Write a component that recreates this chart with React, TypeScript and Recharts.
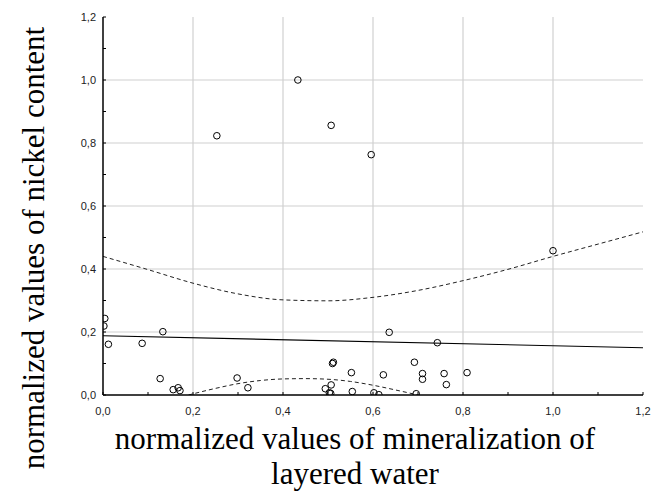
import React from 'react';
import {
  ComposedChart,
  Scatter,
  Line,
  XAxis,
  YAxis,
  CartesianGrid,
} from 'recharts';

// Observed points (normalized mineralization, normalized nickel)
const pointX = [
  0.004, 0.002, 0.012, 0.087, 0.133, 0.127, 0.156, 0.167, 0.171, 0.298,
  0.322, 0.494, 0.503, 0.506, 0.507, 0.510, 0.512, 0.552, 0.554, 0.602,
  0.613, 0.623, 0.636, 0.692, 0.696, 0.710, 0.710, 0.743, 0.758, 0.763,
  0.809, 1.0, 0.433, 0.253, 0.507, 0.596,
];
const pointY = [
  0.243, 0.219, 0.161, 0.164, 0.201, 0.052, 0.017, 0.023, 0.014, 0.054,
  0.023, 0.020, 0.007, 0.005, 0.032, 0.100, 0.104, 0.071, 0.011, 0.007,
  0.001, 0.064, 0.199, 0.104, 0.004, 0.068, 0.050, 0.166, 0.068, 0.033,
  0.071, 0.458, 1.0, 0.823, 0.856, 0.763,
];

// Regression line
const fitX = [0, 1.2];
const fitY = [0.188, 0.15];

// Upper confidence band
const upperX = [0, 0.1, 0.2, 0.3, 0.4, 0.5, 0.6, 0.7, 0.8, 0.9, 1.0, 1.1, 1.2];
const upperY = [0.44, 0.398, 0.355, 0.321, 0.302, 0.299, 0.31, 0.332, 0.363, 0.399, 0.44, 0.479, 0.518];

// Lower confidence band (visible part)
const lowerX = [0.19, 0.25, 0.3, 0.35, 0.4, 0.45, 0.5, 0.55, 0.6, 0.65, 0.7];
const lowerY = [0, 0.021, 0.036, 0.046, 0.051, 0.052, 0.05, 0.043, 0.031, 0.016, 0];

const axisTicks = [0, 0.1, 0.2, 0.3, 0.4, 0.5, 0.6, 0.7, 0.8, 0.9, 1.0, 1.1, 1.2];
const gridValues = [0.2, 0.4, 0.6, 0.8, 1.0];

const xTitle1 = 'normalized values of mineralization of';
const xTitle2 = 'layered water';
const yTitle = 'normalized values of nickel content';

const zip = (xs: number[], ys: number[]) => xs.map((x, i) => ({ x, y: ys[i] }));
const points = zip(pointX, pointY);
const fit = zip(fitX, fitY);
const upper = zip(upperX, upperY);
const lower = zip(lowerX, lowerY);

const fmt = (v: number) => {
  const k = Math.round(v * 10);
  if (k % 2 !== 0) return '';
  return (k / 10).toFixed(1).replace('.', ',');
};

const tickStyle = { fontFamily: '"Liberation Sans", Arial, sans-serif', fontSize: 11, fill: '#222' };

const Circle = (props: any) => {
  const { cx, cy } = props;
  if (cx == null || cy == null) return null;
  return <circle cx={cx} cy={cy} r={3.3} fill="none" stroke="#000" strokeWidth={1} />;
};

export default function App() {
  return (
    <div style={{ position: 'absolute', left: 0, top: 0, width: 667, height: 492, background: '#fff' }}>
      <ComposedChart
        width={667}
        height={492}
        margin={{ top: 17, right: 24, left: 0, bottom: 0 }}
      >
        <CartesianGrid
          stroke="#d0d0d0"
          strokeWidth={1.2}
          horizontalValues={gridValues}
          verticalValues={gridValues}
        />
        <XAxis
          dataKey="x"
          type="number"
          domain={[0, 1.2]}
          ticks={axisTicks}
          tickFormatter={fmt}
          allowDataOverflow
          height={97}
          interval={0}
          tick={tickStyle}
          axisLine={{ stroke: '#000', strokeWidth: 1.5 }}
          tickLine={{ stroke: '#000' }}
          tickSize={-3}
          tickMargin={15}
        />
        <XAxis
          xAxisId="top"
          orientation="top"
          type="number"
          domain={[0, 1.2]}
          ticks={axisTicks}
          tickFormatter={() => ''}
          allowDataOverflow
          height={0}
          interval={0}
          axisLine={{ stroke: '#000', strokeWidth: 1.5 }}
          tickLine={{ stroke: '#000' }}
          tickSize={-3}
        />
        <YAxis
          dataKey="y"
          type="number"
          domain={[0, 1.2]}
          ticks={axisTicks}
          tickFormatter={fmt}
          allowDataOverflow
          width={103}
          interval={0}
          tick={tickStyle}
          axisLine={{ stroke: '#000', strokeWidth: 1.5 }}
          tickLine={{ stroke: '#000' }}
          tickSize={-3}
          tickMargin={10}
        />
        <YAxis
          yAxisId="right"
          orientation="right"
          type="number"
          domain={[0, 1.2]}
          ticks={axisTicks}
          tickFormatter={() => ''}
          allowDataOverflow
          width={0}
          interval={0}
          axisLine={{ stroke: '#000', strokeWidth: 1.5 }}
          tickLine={{ stroke: '#000' }}
          tickSize={-3}
        />
        <Line
          data={upper}
          dataKey="y"
          type="monotone"
          stroke="#222"
          strokeWidth={1}
          strokeDasharray="4 3"
          dot={false}
          activeDot={false}
          isAnimationActive={false}
        />
        <Line
          data={lower}
          dataKey="y"
          type="monotone"
          stroke="#222"
          strokeWidth={1}
          strokeDasharray="4 3"
          dot={false}
          activeDot={false}
          isAnimationActive={false}
        />
        <Line
          data={fit}
          dataKey="y"
          type="linear"
          stroke="#000"
          strokeWidth={1.1}
          dot={false}
          activeDot={false}
          isAnimationActive={false}
        />
        <Scatter data={points} dataKey="y" shape={<Circle />} isAnimationActive={false} />
      </ComposedChart>
      <div
        style={{
          position: 'absolute',
          left: 33,
          top: 248,
          transform: 'translate(-50%, -50%) rotate(-90deg)',
          whiteSpace: 'nowrap',
          fontFamily: '"Liberation Serif", "Times New Roman", serif',
          fontSize: 31,
          lineHeight: 1,
          color: '#000',
        }}
      >
        {yTitle}
      </div>
      <div
        style={{
          position: 'absolute',
          left: 55,
          top: 421,
          width: 600,
          textAlign: 'center',
          fontFamily: '"Liberation Serif", "Times New Roman", serif',
          fontSize: 31,
          lineHeight: '35px',
          color: '#000',
        }}
      >
        <div>{xTitle1}</div>
        <div>{xTitle2}</div>
      </div>
    </div>
  );
}
